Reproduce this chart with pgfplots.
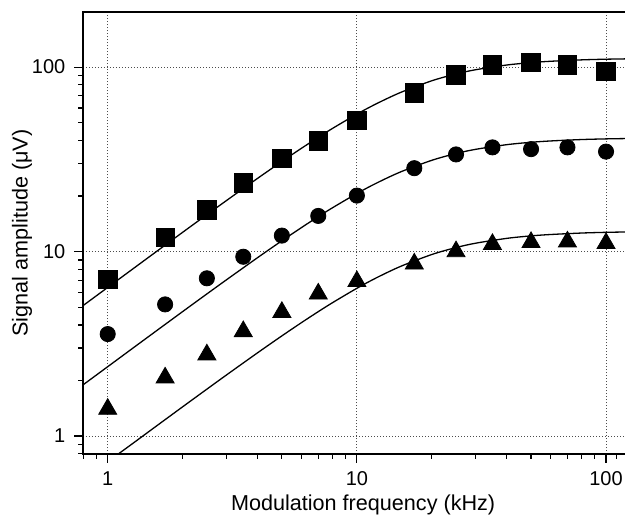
\documentclass[border=0pt]{standalone}
\usepackage{fontspec}
\setmainfont{Liberation Sans}
\usepackage{pgfplots}
\pgfplotsset{compat=1.18}
\begin{document}
\begin{tikzpicture}
\begin{axis}[
  name=ax,
  scale only axis,
  width=272.5pt, height=221pt,
  xmode=log, ymode=log,
  xmin=0.796, xmax=122.5,
  ymin=0.799, ymax=198.8,
  log basis x=10, log basis y=10,
  xtick={1,10,100}, xticklabels={1,10,100},
  ytick={1,10,100}, yticklabels={1,10,100},
  minor xtick={0.8,0.9,2,3,4,5,6,7,8,9,20,30,40,50,60,70,80,90,110,120},
  minor ytick={0.8,0.9,2,3,4,5,6,7,8,9,20,30,40,50,60,70,80,90,200},
  tick pos=left,
  tick align=outside,
  major tick length=4.3pt,
  minor tick length=2.5pt,
  every tick/.style={black, line width=0.55pt},
  axis line style={line width=0.65pt},
  grid=major,
  major grid style={dash pattern=on 0.5pt off 1pt, black!70, line width=0.5pt},
  /pgf/number format/assume math mode=true,
  tick label style={font=\fontsize{10}{12}\selectfont},
  xticklabel style={yshift=-1pt},
  yticklabel style={xshift=-1pt},
  label style={font=\fontsize{10.8}{13}\selectfont},
  xlabel={Modulation frequency (kHz)},
  ylabel={Signal amplitude (μV)},
  xlabel style={at={(axis description cs:0.514,0)}, anchor=center, yshift=-25.5pt},
  ylabel style={at={(axis description cs:-0.112,0.5)}, anchor=center, rotate=0},
  clip=true,
]
% fitted curves
\addplot[black, line width=0.65pt, smooth] coordinates {
(0.796,5.09)(1,6.39)(1.25,7.98)(1.5,9.565)(2,12.72)(2.5,15.84)(3,18.92)(4,24.96)(5,30.77)(6,36.32)(7,41.6)(8,46.57)(10,55.57)(12,63.34)(15,72.89)(20,84.29)(25,91.75)(30,96.74)(40,102.6)(50,105.7)(60,107.5)(80,109.4)(100,110.3)(122.5,110.8)};
\addplot[black, line width=0.65pt, smooth] coordinates {
(0.796,1.893)(1,2.376)(1.25,2.967)(1.5,3.557)(2,4.729)(2.5,5.89)(3,7.036)(4,9.278)(5,11.437)(6,13.5)(7,15.456)(8,17.3)(10,20.635)(12,23.51)(15,27.04)(20,31.24)(25,33.99)(30,35.82)(40,37.97)(50,39.11)(60,39.77)(80,40.47)(100,40.8)(122.5,40.98)};
\addplot[black, line width=0.65pt, smooth] coordinates {
(1.08,0.783)(1.25,0.904)(1.5,1.0837)(2,1.441)(2.5,1.7949)(3,2.1448)(4,2.8294)(5,3.49)(6,4.122)(7,4.723)(8,5.29)(10,6.321)(12,7.214)(15,8.316)(20,9.64)(25,10.51)(30,11.10)(40,11.79)(50,12.16)(60,12.37)(80,12.6)(100,12.71)(122.5,12.77)};
% data
\addplot[only marks, mark=square*, mark size=4.6pt, black] coordinates {
(1,7.07)(1.7,11.9)(2.5,16.8)(3.5,23.6)(5,32.0)(7,39.8)(10,51.2)(17,72.6)(25,90.5)(35,102.6)(50,105.7)(70,102.6)(100,95)};
\addplot[only marks, mark=*, mark size=3.8pt, black] coordinates {
(1,3.57)(1.7,5.17)(2.5,7.16)(3.5,9.37)(5,12.2)(7,15.6)(10,20.1)(17,28.3)(25,33.6)(35,36.7)(50,35.9)(70,36.7)(100,34.8)};
\addplot[only marks, mark=triangle*, mark size=5.2pt, black] coordinates {
(1,1.40)(1.7,2.07)(2.5,2.76)(3.5,3.69)(5,4.69)(7,5.9)(10,6.89)(17,8.58)(25,10.0)(35,10.95)(50,11.22)(70,11.3)(100,11.08)};
\end{axis}
\pgfresetboundingbox
\path[use as bounding box] ([xshift=-41.5pt,yshift=-31.5pt]ax.south west) rectangle ([xshift=-1.5pt,yshift=6pt]ax.north east);
\end{tikzpicture}
\end{document}
